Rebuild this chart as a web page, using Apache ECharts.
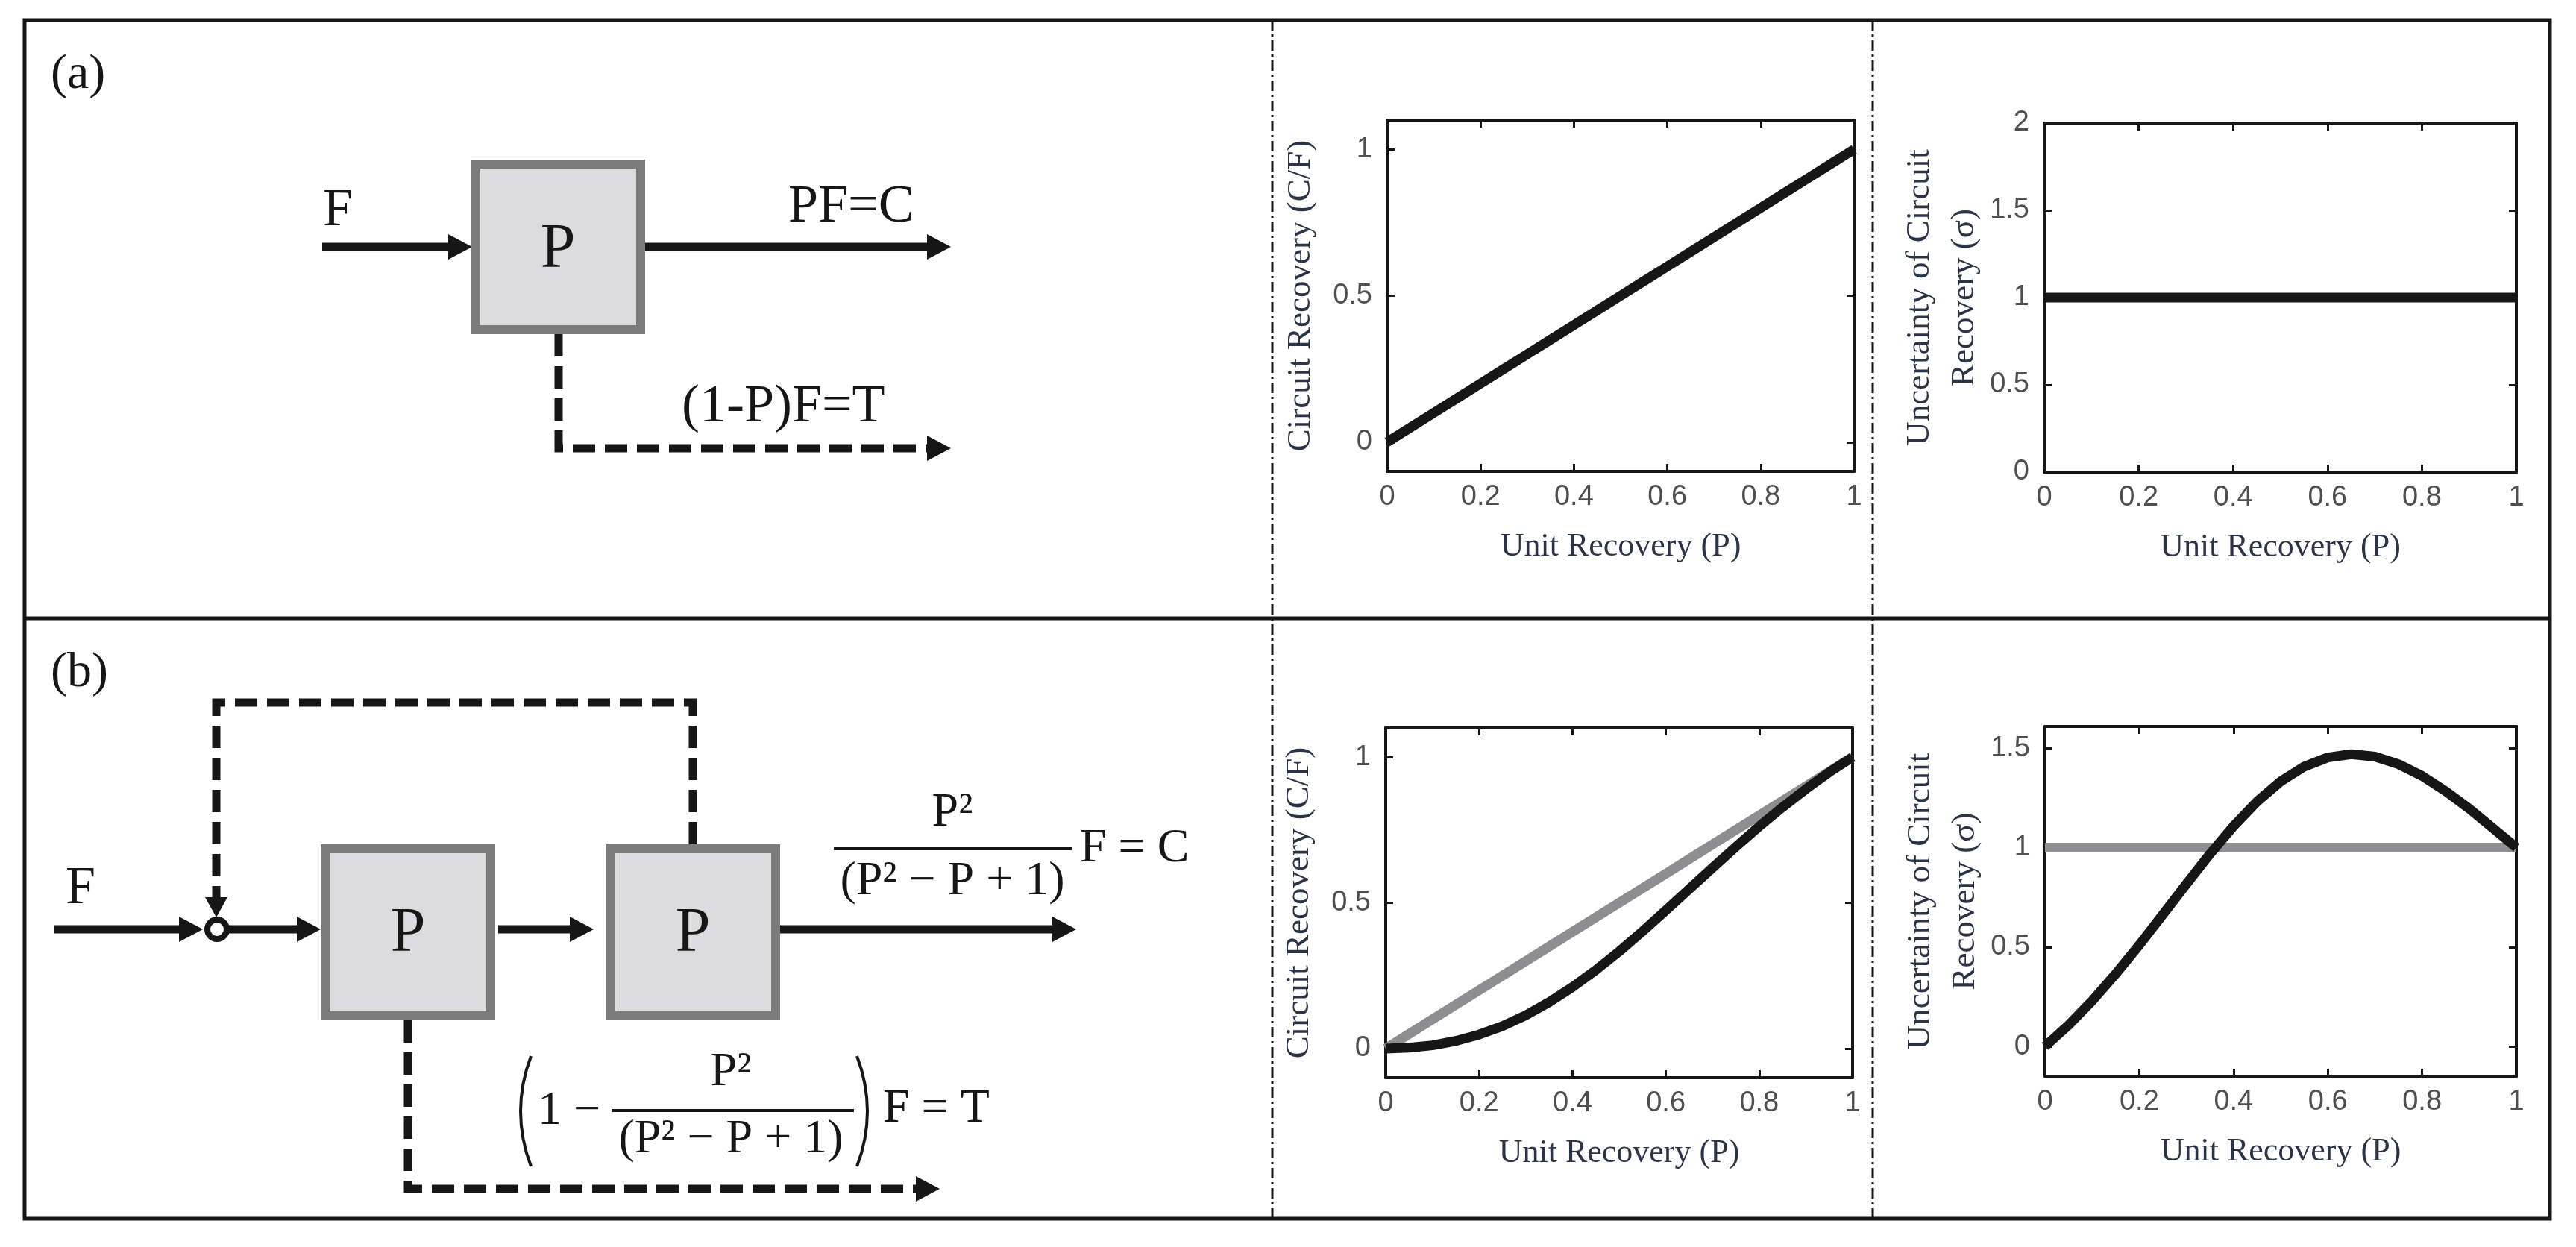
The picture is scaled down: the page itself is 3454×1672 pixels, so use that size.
<!DOCTYPE html>
<html>
<head>
<meta charset="utf-8">
<script src="https://cdn.jsdelivr.net/npm/echarts@6/dist/echarts.min.js"></script>
<style>
  html, body { margin: 0; padding: 0; background: #fff; }
  #fig { width: 3454px; height: 1672px; }
</style>
</head>
<body>
<div id="fig"></div>
<script>
// unit recovery P on the x axis of every plot
const P_VALUES = [0, 0.05, 0.1, 0.15, 0.2, 0.25, 0.3, 0.35, 0.4, 0.45, 0.5, 0.55, 0.6, 0.65, 0.7, 0.75, 0.8, 0.85, 0.9, 0.95, 1];

// (a) single unit
const SINGLE_RECOVERY = [0, 0.05, 0.1, 0.15, 0.2, 0.25, 0.3, 0.35, 0.4, 0.45, 0.5, 0.55, 0.6, 0.65, 0.7, 0.75, 0.8, 0.85, 0.9, 0.95, 1];
const SINGLE_SIGMA = [1, 1, 1, 1, 1, 1, 1, 1, 1, 1, 1, 1, 1, 1, 1, 1, 1, 1, 1, 1, 1];

// (b) two units with recycle
const LOOP_RECOVERY = [0, 0.003, 0.011, 0.026, 0.048, 0.077, 0.114, 0.159, 0.211, 0.269, 0.333, 0.402, 0.474, 0.547, 0.62, 0.692, 0.762, 0.828, 0.89, 0.948, 1];
const LOOP_SIGMA = [0, 0.107, 0.229, 0.365, 0.51, 0.663, 0.817, 0.968, 1.108, 1.232, 1.333, 1.408, 1.454, 1.47, 1.458, 1.42, 1.361, 1.284, 1.196, 1.099, 1];

// tick labels
const P_TICKS = [0, 0.2, 0.4, 0.6, 0.8, 1];
const RECOVERY_TICKS = [0, 0.5, 1];
const SIGMA_TICKS_SINGLE = [0, 0.5, 1, 1.5, 2];
const SIGMA_TICKS_LOOP = [0, 0.5, 1, 1.5];

const INK = '#161616';
const GREY = '#8e8e90';
const TITLE_COLOR = '#2b3446';

const chart = echarts.init(document.getElementById('fig'));

const panels = [
  { box: [1860, 161, 626, 471], yMin: -0.1, yMax: 1.1, yTicks: RECOVERY_TICKS, yName: 'Circuit Recovery (C/F)', yGap: 86 },
  { box: [2741, 165, 633, 468], yMin: 0, yMax: 2, yTicks: SIGMA_TICKS_SINGLE, yName: 'Uncertainty of Circuit\nRecovery (σ)', yGap: 64 },
  { box: [1858, 976, 626, 469], yMin: -0.1, yMax: 1.1, yTicks: RECOVERY_TICKS, yName: 'Circuit Recovery (C/F)', yGap: 86 },
  { box: [2742, 974, 632, 469], yMin: -0.15, yMax: 1.61, yTicks: SIGMA_TICKS_LOOP, yName: 'Uncertainty of Circuit\nRecovery (σ)', yGap: 64 },
];

const tickFont = { fontFamily: 'Liberation Sans', fontSize: 38, color: '#4f4f4f' };
const axisLine = { show: true, onZero: false, lineStyle: { color: INK, width: 4 } };

function tick(values) {
  return { show: true, inside: true, length: 10, customValues: values, lineStyle: { color: INK, width: 3 } };
}

const grids = [];
const xAxes = [];
const yAxes = [];

panels.forEach((p, i) => {
  grids.push({ left: p.box[0], top: p.box[1], width: p.box[2], height: p.box[3] });
  xAxes.push({
    type: 'value', gridIndex: i, min: 0, max: 1, position: 'bottom',
    axisLine: axisLine, axisTick: tick(P_TICKS),
    axisLabel: Object.assign({ customValues: P_TICKS, margin: 16 }, tickFont),
    splitLine: { show: false },
    name: 'Unit Recovery (P)', nameLocation: 'middle', nameGap: 79,
    nameTextStyle: { fontFamily: 'Liberation Serif', fontSize: 44, color: TITLE_COLOR },
  });
  xAxes.push({
    type: 'value', gridIndex: i, min: 0, max: 1, position: 'top',
    axisLine: axisLine, axisTick: tick(P_TICKS), axisLabel: { show: false }, splitLine: { show: false },
  });
  yAxes.push({
    type: 'value', gridIndex: i, min: p.yMin, max: p.yMax, position: 'left',
    axisLine: axisLine, axisTick: tick(p.yTicks),
    axisLabel: Object.assign({ customValues: p.yTicks, margin: 20 }, tickFont),
    splitLine: { show: false },
    name: p.yName, nameLocation: 'middle', nameRotate: 90, nameGap: p.yGap,
    nameTextStyle: { fontFamily: 'Liberation Serif', fontSize: 45, lineHeight: 60, color: TITLE_COLOR },
  });
  yAxes.push({
    type: 'value', gridIndex: i, min: p.yMin, max: p.yMax, position: 'right',
    axisLine: axisLine, axisTick: tick(p.yTicks), axisLabel: { show: false }, splitLine: { show: false },
  });
});

function pairs(values) {
  return P_VALUES.map((p, i) => [p, values[i]]);
}

function curve(panel, values, color) {
  return {
    type: 'line', xAxisIndex: panel * 2, yAxisIndex: panel * 2,
    data: pairs(values), showSymbol: false, smooth: false, silent: true,
    lineStyle: { color: color, width: 13, join: 'round' },
  };
}

// ---- block diagrams ----
function path(points, dashed) {
  return {
    type: 'polyline', shape: { points: points },
    style: { stroke: INK, lineWidth: 11, fill: null, lineDash: dashed ? [30, 13] : null },
  };
}
function headRight(x, y) {
  return { type: 'polygon', shape: { points: [[x, y], [x - 32, y - 17], [x - 32, y + 17]] }, style: { fill: INK } };
}
function headDown(x, y) {
  return { type: 'polygon', shape: { points: [[x, y], [x - 15, y - 27], [x + 15, y - 27]] }, style: { fill: INK } };
}
function unitBox(x, y, w, h) {
  return { type: 'rect', shape: { x: x, y: y, width: w, height: h }, style: { fill: '#dcdcdf', stroke: '#7b7b7b', lineWidth: 12 } };
}
function txt(text, x, y, size, align) {
  return {
    type: 'text', x: x, y: y,
    style: { text: text, font: size + 'px "Liberation Serif"', fill: INK, textAlign: align || 'left', textVerticalAlign: 'middle' },
  };
}
function bar(x1, x2, y) {
  return { type: 'line', shape: { x1: x1, y1: y, x2: x2, y2: y }, style: { stroke: INK, lineWidth: 4 } };
}
function paren(x, top, bottom, bulge) {
  return {
    type: 'bezierCurve',
    shape: { x1: x, y1: top, x2: x, y2: bottom, cpx1: x + bulge, cpy1: (top + bottom) / 2 },
    style: { stroke: INK, lineWidth: 4, fill: null },
  };
}
function divider(x) {
  return { type: 'line', shape: { x1: x, y1: 27, x2: x, y2: 1634 }, style: { stroke: INK, lineWidth: 3, lineDash: [14, 5, 3, 5] } };
}

const graphics = [
  { type: 'rect', shape: { x: 33, y: 27, width: 3386, height: 1607 }, style: { fill: null, stroke: INK, lineWidth: 5 } },
  { type: 'line', shape: { x1: 33, y1: 829, x2: 3419, y2: 829 }, style: { stroke: INK, lineWidth: 5 } },
  divider(1706),
  divider(2511),

  // (a)
  txt('(a)', 68, 101, 66),
  path([[432, 331], [604, 331]]), headRight(633, 331),
  path([[865, 331], [1246, 331]]), headRight(1275, 331),
  path([[749, 448], [749, 601], [1246, 601]], true), headRight(1275, 601),
  unitBox(638, 220, 221, 222),
  txt('P', 748, 336, 84, 'center'),
  txt('F', 433, 283, 72),
  txt('PF=C', 1057, 278, 72),
  txt('(1-P)F=T', 914, 546, 72),

  // (b)
  txt('(b)', 68, 903, 66),
  path([[72, 1246], [242, 1246]]), headRight(272, 1246),
  path([[307, 1246], [400, 1246]]), headRight(430, 1246),
  path([[668, 1246], [766, 1246]]), headRight(796, 1246),
  path([[1046, 1246], [1414, 1246]]), headRight(1443, 1246),
  path([[929, 1132], [929, 942], [290, 942], [290, 1204]], true), headDown(290, 1230),
  path([[547, 1368], [547, 1594], [1230, 1594]], true), headRight(1260, 1594),
  { type: 'circle', shape: { cx: 291, cy: 1246, r: 13 }, style: { fill: '#fff', stroke: INK, lineWidth: 8 } },
  unitBox(436, 1138, 222, 224),
  unitBox(819, 1138, 221, 224),
  txt('P', 547, 1253, 84, 'center'),
  txt('P', 929, 1253, 84, 'center'),
  txt('F', 88, 1192, 72),

  // concentrate stream
  txt('P²', 1277, 1090, 64, 'center'),
  bar(1118, 1437, 1138),
  txt('(P² − P + 1)', 1277, 1182, 64, 'center'),
  txt('F = C', 1448, 1138, 64),

  // tailings stream
  paren(712, 1416, 1564, -28),
  paren(1149, 1416, 1564, 28),
  txt('1 −', 721, 1490, 64),
  txt('P²', 980, 1438, 64, 'center'),
  bar(820, 1145, 1489),
  txt('(P² − P + 1)', 980, 1528, 64, 'center'),
  txt('F = T', 1184, 1487, 64),
];

const option = {
  animation: false,
  backgroundColor: '#ffffff',
  grid: grids,
  xAxis: xAxes,
  yAxis: yAxes,
  series: [
    curve(0, SINGLE_RECOVERY, INK),
    curve(1, SINGLE_SIGMA, INK),
    curve(2, SINGLE_RECOVERY, GREY),
    curve(2, LOOP_RECOVERY, INK),
    curve(3, SINGLE_SIGMA, GREY),
    curve(3, LOOP_SIGMA, INK),
  ],
  graphic: graphics,
};

chart.setOption(option);
</script>
</body>
</html>
